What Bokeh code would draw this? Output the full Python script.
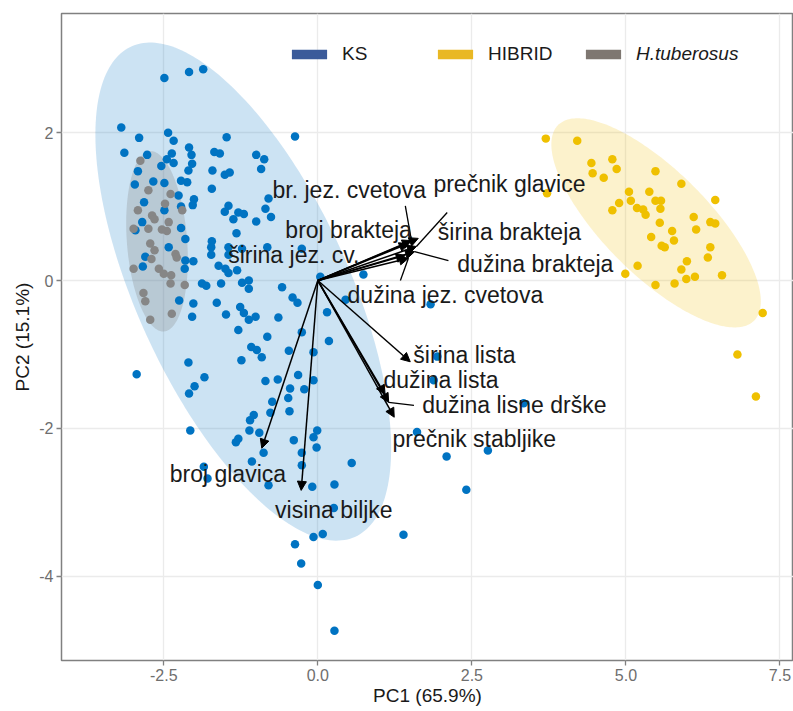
import numpy as np
from bokeh.plotting import figure
from bokeh.models import (ColumnDataSource, Arrow, NormalHead, Legend, LegendItem,
                          FixedTicker, PrintfTickFormatter, Range1d)
from bokeh.core.properties import value
from bokeh.embed import file_html
from bokeh.resources import INLINE

# ---------------- data (PC scores) ----------------
ks_x = [-2.49, -2.09, -1.86, -3.19, -2.90, -2.43, -2.34, -1.48, -3.14, -2.77,
        -2.09, -2.05, -2.37, -2.45, -2.34, -2.54, -1.68, -1.59, -2.04, -2.10,
        -1.00, -0.87, -0.92, -2.92, -1.71, -1.51, -1.43, -2.97, -2.67, -2.49,
        -2.22, -2.12, -1.72, -2.26, -2.01, -2.03, -2.82, -2.49, -2.22, -1.45,
        -1.51, -1.29, -1.20, -1.37, -1.00, -0.80, -0.85, -0.76, -2.85, -2.22,
        -2.96, -2.15, -1.32, -1.72, -1.73, -1.45, -1.23, -2.42, -0.82,
        -0.37, -0.26, 0.04, 0.74, -0.58, -0.41, -0.33, 0.45, 1.83, 0.15,
        -0.26, 0.18, -0.07, -0.47, -0.32, -0.45, -0.22, -0.48, -0.07, -0.46,
        -0.01, -0.07, -0.39, 1.94, 1.88, 1.61, 3.34, 2.09, 2.76, 2.41, 1.39,
        -2.80, -2.84, -2.15, -2.02, -2.16, -1.73, -1.45, -1.61, -1.50, -1.45,
        -1.31, -1.88, -1.81, -1.57, -1.23, -1.12, -1.12,
        -2.25, -2.02, -1.64, -1.26, -1.20, -1.12, -1.01, -1.49, -2.04, -0.64,
        -1.29, -0.82, -1.08, -0.99, -0.91, -1.24, -2.10, -2.94, -1.84, -2.00,
        -2.09, -0.85, -0.65, -0.74, -0.77, -1.04, -1.10, -1.11, -0.95, -2.07,
        -1.29, -1.33,
        -0.88, -1.07, -1.85, -1.79, -0.80, -0.26, -0.26, -0.02, 0.55, -0.09,
        0.27, 0.26, -0.07, 0.08, -0.37, -0.27, 0.00, 0.27]
ks_y = [2.74, 2.82, 2.86, 2.07, 1.93, 2.00, 1.89, 1.94, 1.73, 1.70,
        1.80, 1.70, 1.72, 1.64, 1.59, 1.55, 1.74, 1.72, 1.58, 1.49,
        1.70, 1.64, 1.51, 1.48, 1.49, 1.43, 1.46, 1.30, 1.34, 1.32,
        1.35, 1.33, 1.24, 1.15, 1.10, 1.02, 1.06, 0.95, 1.00, 1.01,
        0.93, 0.92, 0.90, 0.83, 0.80, 1.11, 0.97, 0.86, 0.79, 0.71,
        0.68, 0.56, 0.64, 0.53, 0.45, 0.45, 0.43, 0.45, 0.45,
        1.95, 0.43, 0.05, 0.08, -0.09, -0.23, -0.30, -0.26, -0.32, -0.43,
        -0.70, -0.82, -0.97, -0.95, -1.28, -1.46, -1.47, -1.59, -1.35, -1.77,
        -2.03, -2.12, -2.16, -1.03, -1.35, -2.05, -1.66, -2.38, -2.30, -2.83, -3.44,
        0.32, 0.19, 0.27, 0.26, 0.16, 0.35, 0.35, 0.20, 0.16, 0.10,
        0.14, -0.04, -0.07, -0.04, -0.03, 0.00, -0.11,
        -0.27, -0.31, -0.30, -0.36, -0.44, -0.53, -0.49, -0.46, -0.49, -0.50,
        -0.67, -0.76, -0.90, -0.94, -1.04, -1.08, -1.11, -1.27, -1.31, -1.43,
        -1.53, -1.36, -1.34, -1.64, -1.79, -1.82, -1.89, -2.03, -2.06, -2.03,
        -2.14, -2.19,
        -2.33, -2.45, -2.52, -2.68, -2.77, -2.33, -2.50, -2.26, -2.47, -2.79,
        -2.76, -3.08, -3.47, -3.43, -3.57, -3.83, -4.12, -4.74]

hib_x = [3.70, 4.21, 4.44, 4.78, 4.85, 4.46, 4.64, 5.48, 5.90, 3.72,
         5.05, 5.38, 4.89, 5.08, 5.48, 5.57, 5.56, 5.18, 5.28, 5.32,
         4.78, 6.45, 5.55, 6.10, 6.14, 6.37, 6.45, 5.75, 5.41, 5.78,
         5.58, 5.63, 6.37, 6.33, 5.99, 5.90, 5.98, 6.12, 6.56, 5.19,
         4.99, 5.48, 5.79, 7.22, 6.81, 7.11]
hib_y = [1.92, 1.89, 1.59, 1.64, 1.51, 1.45, 1.39, 1.48, 1.31, 1.18,
         1.20, 1.20, 1.05, 1.08, 1.08, 1.08, 0.97, 0.98, 0.96, 0.89,
         0.95, 1.09, 0.78, 0.86, 0.69, 0.79, 0.77, 0.67, 0.59, 0.54,
         0.47, 0.45, 0.45, 0.31, 0.26, 0.15, 0.02, 0.05, 0.07, 0.20,
         0.09, -0.06, -0.04, -0.44, -1.00, -1.57]

tub_x = [-2.88, -2.75, -2.39, -2.48, -2.92, -2.69, -2.20, -2.65, -2.42, -2.99,
         -2.75, -2.53, -2.45, -2.72, -2.65, -2.31, -2.29, -2.70, -2.99, -2.58,
         -2.50, -2.38, -2.39, -2.16, -2.83, -2.80, -2.37, -2.72]
tub_y = [1.62, 1.22, 1.17, 1.04, 0.95, 0.88, 0.95, 0.83, 0.79, 0.70,
         0.70, 0.69, 0.67, 0.50, 0.41, 0.36, 0.31, 0.29, 0.16, 0.16,
         0.09, 0.07, -0.04, -0.06, -0.17, -0.28, -0.45, -0.53]

groups = ["KS", "HIBRID", "H.tuberosus"]
point_colors = ["#0073C2", "#EFC000", "#868686"]
key_colors = ["#3B5B9A", "#E9B824", "#7E7771"]

# concentration ellipses: centre, sd, correlation
ell_cx = [-1.21, 5.49, -2.61]
ell_cy = [-0.15, 0.78, 0.53]
ell_sx = [2.40, 1.70, 0.50]
ell_sy = [3.37, 1.415, 1.22]
ell_r = [-0.63, -0.75, -0.20]
ell_alpha = [0.2, 0.2, 0.28]

# variable loadings (arrows) and their label positions
var_names = ["prečnik glavice", "br. jez. cvetova", "broj brakteja", "širina brakteja",
             "dužina brakteja", "širina jez. cv.", "dužina jez. cvetova", "širina lista",
             "dužina lista", "dužina lisne drške", "prečnik stabljike", "broj glavica",
             "visina biljke"]
load_pc1 = [1.63, 1.52, 1.47, 1.60, 1.57, 1.42, 1.47, 1.50, 1.09, 1.15, 1.24, -0.91, -0.27]
load_pc2 = [0.57, 0.54, 0.50, 0.46, 0.39, 0.34, 0.30, -1.10, -1.54, -1.65, -1.85, -2.27, -2.84]
lab_x = [3.11, 0.51, 0.50, 3.11, 3.53, -0.39, 2.07, 2.38, 2.00, 3.19, 2.54, -1.46, 0.26]
lab_y = [1.31, 1.22, 0.68, 0.65, 0.23, 0.34, -0.19, -1.01, -1.35, -1.69, -2.14, -2.62, -3.11]

# repel connector segments (label side)
seg_vars = ["br. jez. cvetova", "širina brakteja", "dužina brakteja",
            "dužina jez. cvetova", "dužina lisne drške"]
seg_x = [1.42, 2.10, 2.12, 1.34, 1.56]
seg_y = [1.01, 0.92, 0.27, 0.00, -1.69]

x_ticks = [-2.5, 0.0, 2.5, 5.0, 7.5]
y_ticks = [-4, -2, 0, 2]

FONT = "Liberation Sans"

p = figure(width=793, height=710,
           x_range=Range1d(-4.16, 7.72), y_range=Range1d(-5.142, 3.613),
           output_backend="svg", toolbar_location=None,
           min_border_left=61, min_border_right=0, min_border_top=13, min_border_bottom=50)
p.background_fill_color = "white"
p.border_fill_color = "white"
p.outline_line_color = "#808080"
p.outline_line_width = 1.5

p.grid.grid_line_color = "#EBEBEB"
p.grid.grid_line_width = 1.3
p.xgrid.ticker = FixedTicker(ticks=x_ticks)
p.ygrid.ticker = FixedTicker(ticks=y_ticks)

for ax in (p.xaxis[0], p.yaxis[0]):
    ax.axis_line_color = None
    ax.major_tick_line_color = "#808080"
    ax.major_tick_line_width = 1.3
    ax.major_tick_out = 5
    ax.major_tick_in = 0
    ax.minor_tick_line_color = None
    ax.major_label_text_font = FONT
    ax.major_label_text_font_size = "16px"
    ax.major_label_text_color = "#6E6E6E"
    ax.axis_label_text_font = FONT
    ax.axis_label_text_font_size = "19px"
    ax.axis_label_text_font_style = "normal"
    ax.axis_label_text_color = "#1A1A1A"

p.xaxis.ticker = FixedTicker(ticks=x_ticks)
p.yaxis.ticker = FixedTicker(ticks=y_ticks)
p.xaxis.formatter = PrintfTickFormatter(format="%.1f")
p.yaxis.formatter = PrintfTickFormatter(format="%d")
p.xaxis.axis_label = "PC1 (65.9%)"
p.yaxis.axis_label = "PC2 (15.1%)"
p.xaxis.major_label_standoff = 3
p.xaxis.axis_label_standoff = 1
p.yaxis.major_label_standoff = 3
p.yaxis.axis_label_standoff = 3

# ellipses
t = np.linspace(0, 2 * np.pi, 240)
for i in range(3):
    r = ell_r[i]
    ex = ell_cx[i] + ell_sx[i] * np.cos(t)
    ey = ell_cy[i] + ell_sy[i] * (r * np.cos(t) + np.sqrt(1 - r * r) * np.sin(t))
    p.patch(ex, ey, fill_color=point_colors[i], fill_alpha=ell_alpha[i], line_color=None)

# points
for xs, ys, c in ((ks_x, ks_y, point_colors[0]), (hib_x, hib_y, point_colors[1]),
                  (tub_x, tub_y, point_colors[2])):
    p.scatter(xs, ys, size=8.5, fill_color=c, line_color=None)

# arrows
n = len(var_names)
asrc = ColumnDataSource(dict(x0=np.zeros(n), y0=np.zeros(n), x1=load_pc1, y1=load_pc2))
p.add_layout(Arrow(end=NormalHead(size=9, fill_color="black", line_color="black", line_width=1),
                   x_start="x0", y_start="y0", x_end="x1", y_end="y1", source=asrc,
                   line_color="black", line_width=1.5))

# repel segments
sx1 = [load_pc1[var_names.index(v)] for v in seg_vars]
sy1 = [load_pc2[var_names.index(v)] for v in seg_vars]
p.segment(x0=seg_x, y0=seg_y, x1=sx1, y1=sy1, line_color="black", line_width=1.3)

# variable labels
p.text(x=lab_x, y=lab_y, text=var_names, text_font=value(FONT), text_font_size="23px",
       text_align="center", text_baseline="middle", text_color="#1A1A1A")

# legend (key-only renderers: one NaN row so that only the legend swatch is drawn)
kr = [p.rect(x=[np.nan], y=[np.nan], width=1, height=1, fill_color=c, line_color=None)
      for c in key_colors]
common = dict(orientation="horizontal", glyph_width=44, glyph_height=12, label_standoff=11,
              spacing=11, padding=0, margin=0, border_line_color=None,
              background_fill_alpha=0, label_text_font=FONT, label_text_font_size="19px",
              label_text_color="#1A1A1A")
leg1 = Legend(items=[LegendItem(label=groups[0], renderers=[kr[0]]),
                     LegendItem(label=groups[1], renderers=[kr[1]])],
              location=(226, 595), label_width=80, **common)
leg2 = Legend(items=[LegendItem(label=groups[2], renderers=[kr[2]])],
              location=(520, 595), label_text_font_style="italic", **common)
p.add_layout(leg1)
p.add_layout(leg2)

open("out.html", "w").write(file_html(p, INLINE))
